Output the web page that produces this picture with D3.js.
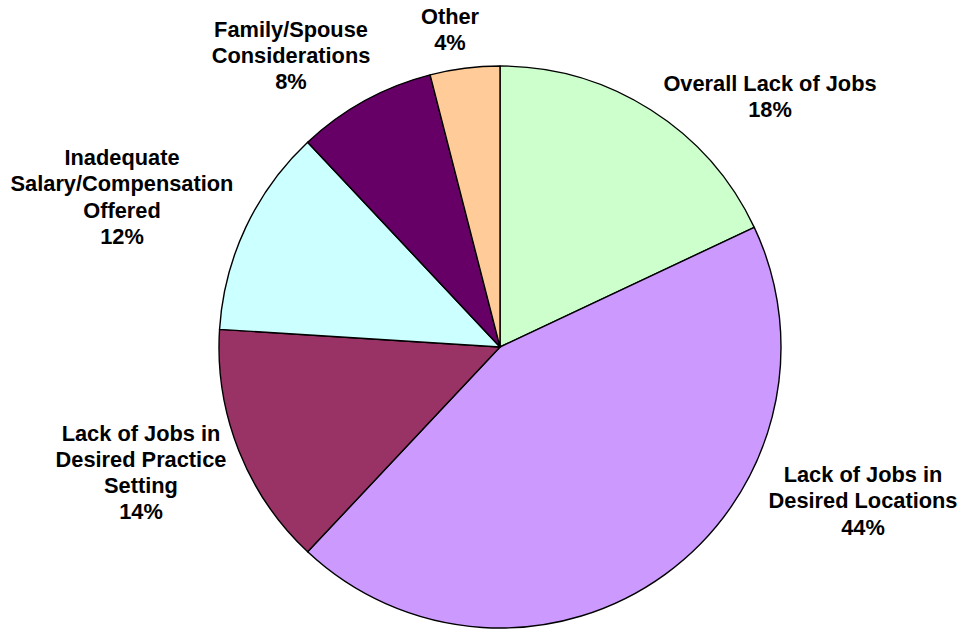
<!DOCTYPE html>
<html>
<head>
<meta charset="utf-8">
<script src="https://cdn.jsdelivr.net/npm/d3@7"></script>
<style>
  html, body { margin: 0; padding: 0; background: #fff; }
  svg { display: block; }
  text { font-family: "Liberation Sans", Arial, sans-serif; font-weight: bold; fill: #000; }
</style>
</head>
<body>
<svg id="chart" width="961" height="631"></svg>
<script>
// Reasons reported, clockwise from 12 o'clock
const categories = [
  "Overall Lack of Jobs",
  "Lack of Jobs in Desired Locations",
  "Lack of Jobs in Desired Practice Setting",
  "Inadequate Salary/Compensation Offered",
  "Family/Spouse Considerations",
  "Other"
];
const values = [18, 44, 14, 12, 8, 4];
const colors = ["#CCFFCC", "#CC99FF", "#993366", "#CCFFFF", "#660066", "#FFCC99"];
// Label text broken into lines as displayed
const labelLines = [
  ["Overall Lack of Jobs"],
  ["Lack of Jobs in", "Desired Locations"],
  ["Lack of Jobs in", "Desired Practice", "Setting"],
  ["Inadequate", "Salary/Compensation", "Offered"],
  ["Family/Spouse", "Considerations"],
  ["Other"]
];
// Label anchor points (centre x, first baseline y)
const labelPos = [
  [770, 90.5], [863, 482], [141, 440.5], [122, 165], [291, 36.5], [450, 24]
];

const W = 961, H = 631;
const cx = 500, cy = 347, radius = 281;
const fontSize = 21.8, lineH = 26.3;

const svg = d3.select("#chart");

const pie = d3.pie().value(d => d.value).sort(null);
const arc = d3.arc().innerRadius(0).outerRadius(radius);

const data = categories.map((c, i) => ({ name: c, value: values[i], color: colors[i], lines: labelLines[i], pos: labelPos[i] }));

const g = svg.append("g").attr("transform", `translate(${cx},${cy})`);

g.selectAll("path.slice")
  .data(pie(data))
  .join("path")
  .attr("class", "slice")
  .attr("d", arc)
  .attr("fill", d => d.data.color)
  .attr("stroke", "#000")
  .attr("stroke-width", 1.4)
  .attr("stroke-linejoin", "round");

// Data labels: category name lines followed by the percentage
const labels = svg.append("g").selectAll("text.label")
  .data(pie(data))
  .join("text")
  .attr("class", "label")
  .attr("text-anchor", "middle")
  .attr("font-size", fontSize)
  .attr("x", d => d.data.pos[0])
  .attr("y", d => d.data.pos[1]);

labels.each(function(d) {
  const t = d3.select(this);
  const lines = d.data.lines.concat([d3.format(".0f")(d.data.value) + "%"]);
  lines.forEach((ln, i) => {
    t.append("tspan")
      .attr("x", d.data.pos[0])
      .attr("dy", i === 0 ? 0 : lineH)
      .text(ln);
  });
});
</script>
</body>
</html>
